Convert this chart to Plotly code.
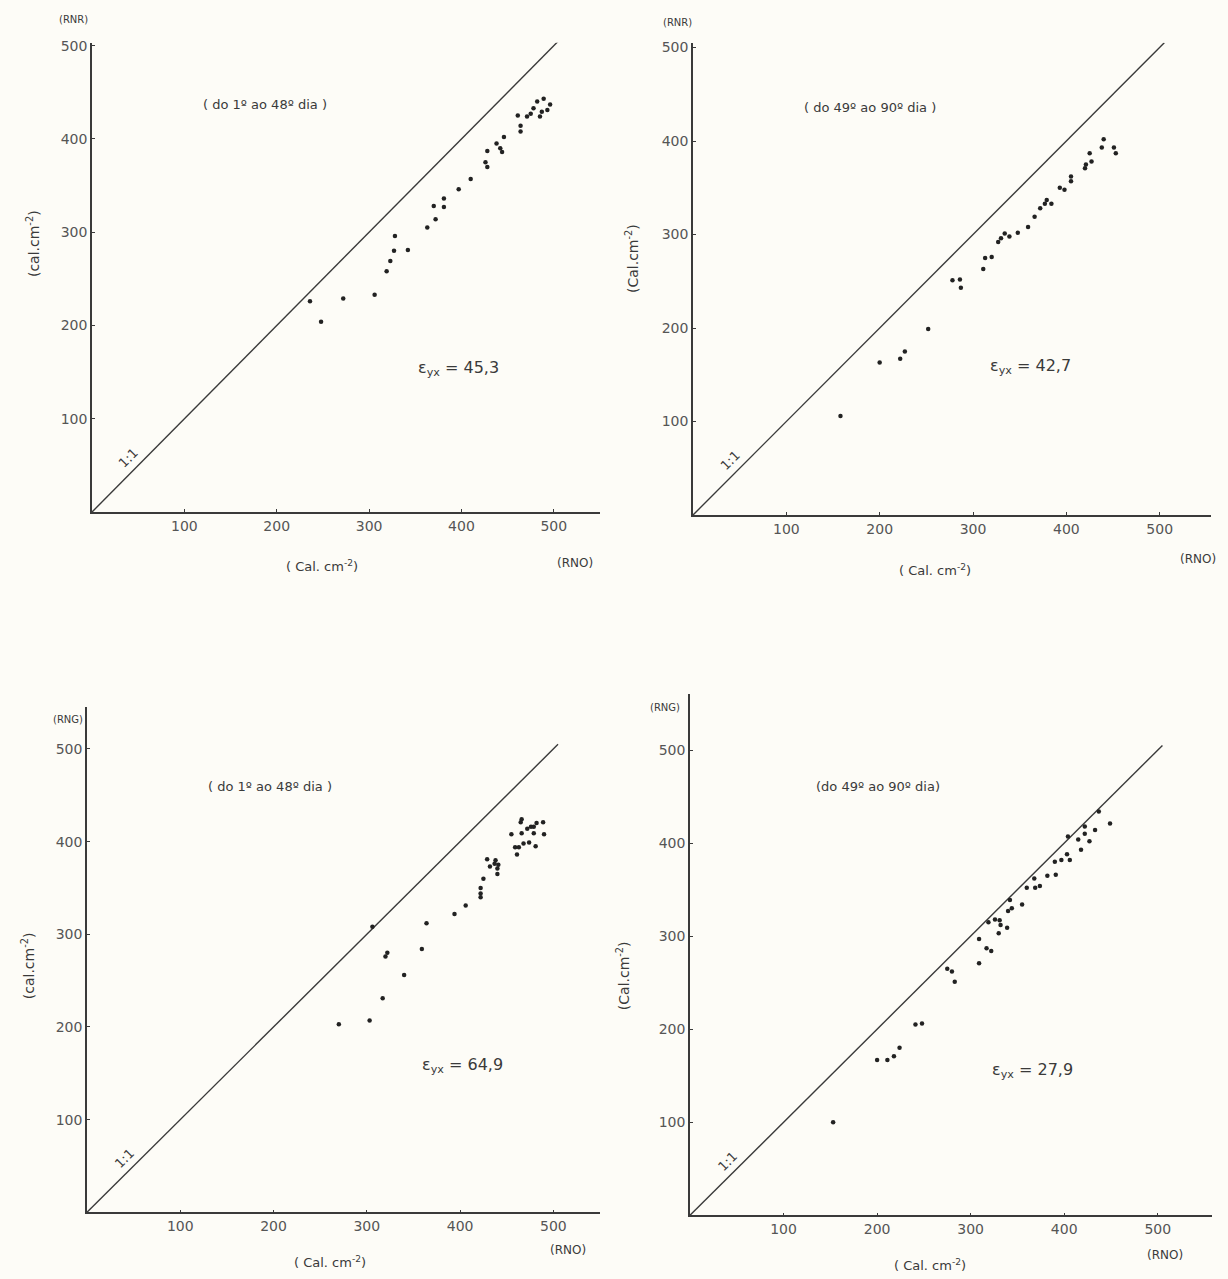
import plotly.graph_objects as go

# ---- data ----
x1 = [236, 248, 272, 306, 319, 323, 327, 328, 342, 363, 370, 372, 381, 381, 397, 410, 426, 428, 428, 438,
      442, 444, 446, 461, 464, 464, 471, 475, 478, 482, 489, 496, 493, 487, 485]
y1 = [226, 204, 229, 233, 258, 269, 280, 296, 281, 305, 328, 314, 336, 327, 346, 357, 375, 370, 387, 395,
      390, 386, 402, 425, 414, 408, 424, 427, 433, 440, 443, 437, 431, 429, 424]

x2 = [158, 200, 222, 227, 252, 278, 286, 287, 311, 313, 320, 327, 330, 334, 339, 348, 359, 366, 372, 377,
      379, 384, 393, 398, 405, 405, 420, 421, 427, 425, 438, 440, 451, 453]
y2 = [106, 163, 167, 175, 199, 251, 252, 243, 263, 275, 276, 292, 296, 301, 298, 302, 308, 319, 328, 333,
      337, 333, 350, 348, 357, 362, 371, 375, 378, 387, 393, 402, 393, 387]

x3 = [270, 303, 306, 317, 320, 322, 340, 359, 364, 394, 406, 422, 422, 422, 425, 429, 432, 437, 438, 440,
      440, 441, 455, 459, 461, 463, 465, 466, 466, 468, 472, 474, 476, 479, 479, 481, 482, 489, 490]
y3 = [203, 207, 308, 231, 276, 280, 256, 284, 312, 322, 331, 340, 344, 350, 360, 381, 373, 376, 380, 371,
      365, 375, 408, 394, 386, 394, 421, 409, 424, 398, 414, 399, 416, 416, 409, 395, 420, 421, 408]

x4 = [153, 200, 211, 218, 224, 241, 248, 275, 280, 283, 309, 309, 317, 322, 319, 326, 331, 332, 330, 339,
      340, 342, 355, 344, 360, 369, 374, 368, 382, 391, 390, 397, 403, 406, 404, 415, 418, 427, 422, 422,
      433, 437, 449]
y4 = [100, 167, 167, 171, 180, 205, 206, 265, 262, 251, 271, 297, 287, 284, 315, 318, 317, 312, 303, 309,
      327, 339, 334, 330, 352, 352, 354, 362, 365, 366, 380, 382, 388, 382, 407, 404, 393, 402, 410, 418,
      414, 434, 421]

tick_vals = [100, 200, 300, 400, 500]
tick_text = ["100", "200", "300", "400", "500"]
one_to_one = [0, 505]

periods = ["( do 1º ao 48º dia )", "( do 49º ao 90º dia )", "( do 1º ao 48º dia )", "(do 49º ao 90º dia)"]
errors = ["45,3", "42,7", "64,9", "27,9"]
ylabels_top = ["(RNR)", "(RNR)", "(RNG)", "(RNG)"]
ytitles = ["(cal.cm<sup>-2</sup>)", "(Cal.cm<sup>-2</sup>)", "(cal.cm<sup>-2</sup>)", "(Cal.cm<sup>-2</sup>)"]

W, H = 1228, 1279
INK = "#3a3a3a"
FONT = "DejaVu Sans"

def px(x):
    return x / W

def py(y):
    return 1 - y / H

# panel geometry in pixels and label positions in pixels
panels = [
    dict(l=92, r=600, b=509, t=38, xr=550, yr=503,
         period=(265, 100), err=(458, 365), xt=(322, 563), rno=(575, 560), top=(73, 15), yt=(33, 240)),
    dict(l=693, r=1211, b=512, t=38, xr=555, yr=505,
         period=(870, 103), err=(1030, 363), xt=(935, 567), rno=(1198, 556), top=(677, 18), yt=(632, 255)),
    dict(l=87, r=600, b=1212, t=705, xr=550, yr=545,
         period=(270, 785), err=(462, 1065), xt=(330, 1262), rno=(568, 1250), top=(68, 717), yt=(28, 965)),
    dict(l=690, r=1212, b=1215, t=692, xr=558, yr=560,
         period=(878, 785), err=(1032, 1070), xt=(930, 1265), rno=(1165, 1255), top=(665, 705), yt=(623, 975)),
]
data = [(x1, y1), (x2, y2), (x3, y3), (x4, y4)]

fig = go.Figure()
layout = dict(
    width=W, height=H, margin=dict(l=0, r=0, t=0, b=0),
    paper_bgcolor="#fdfcf7", plot_bgcolor="rgba(0,0,0,0)",
    showlegend=False, font=dict(family=FONT, color=INK, size=13),
)
annotations = []

def ann(pos, text, size, angle=0):
    return dict(xref="paper", yref="paper", x=px(pos[0]), y=py(pos[1]), xanchor="center",
                yanchor="middle", text=text, showarrow=False, textangle=angle,
                font=dict(size=size, color=INK))

for i, (p, (xs, ys)) in enumerate(zip(panels, data)):
    n = "" if i == 0 else str(i + 1)
    xa, ya = "x" + n, "y" + n
    layout["xaxis" + n] = dict(
        domain=[px(p["l"]), px(p["r"])], range=[0, p["xr"]], anchor=ya,
        showline=True, linecolor=INK, linewidth=1.5, showgrid=False, zeroline=False,
        tickvals=tick_vals, ticktext=tick_text, ticks="inside", ticklen=3, tickcolor=INK,
        tickfont=dict(size=14, color="#555"), fixedrange=True,
    )
    layout["yaxis" + n] = dict(
        domain=[py(p["b"]), py(p["t"])], range=[0, p["yr"]], anchor=xa,
        showline=True, linecolor=INK, linewidth=1.5, showgrid=False, zeroline=False,
        tickvals=tick_vals, ticktext=tick_text, ticks="inside", ticklen=3, tickcolor=INK,
        tickfont=dict(size=14, color="#555"), fixedrange=True,
    )
    fig.add_trace(go.Scatter(x=one_to_one, y=one_to_one, mode="lines", xaxis=xa, yaxis=ya,
                             line=dict(color=INK, width=1.4), hoverinfo="skip"))
    fig.add_trace(go.Scatter(x=xs, y=ys, mode="markers", xaxis=xa, yaxis=ya,
                             marker=dict(color="#222", size=4.5)))

    annotations.append(ann(p["period"], periods[i], 13))
    annotations.append(ann(p["err"], "ε<sub>yx</sub> = " + errors[i], 16))
    annotations.append(dict(xref=xa, yref=ya, x=40, y=58, text="1:1", showarrow=False,
                            textangle=-45, font=dict(size=13, color=INK)))
    annotations.append(ann(p["xt"], "( Cal. cm<sup>-2</sup>)", 13))
    annotations.append(ann(p["rno"], "(RNO)", 12))
    annotations.append(ann(p["top"], ylabels_top[i], 10))
    annotations.append(ann(p["yt"], ytitles[i], 14, -90))

layout["annotations"] = annotations
fig.update_layout(**layout)
fig.write_html("out.html")
